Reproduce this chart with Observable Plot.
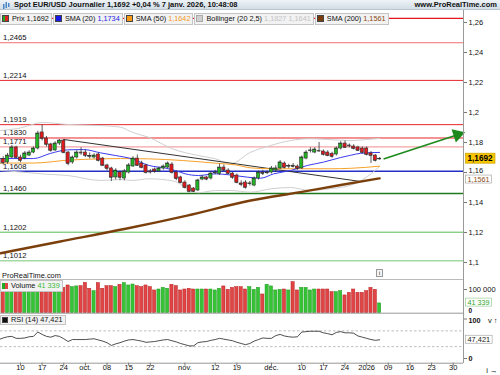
<!DOCTYPE html>
<html><head><meta charset="utf-8">
<script src="https://cdn.jsdelivr.net/npm/d3@7"></script>
<script src="https://cdn.jsdelivr.net/npm/@observablehq/plot@0.6"></script>
<style>
html,body{margin:0;padding:0;background:#fff;}
#wrap{position:relative;width:500px;height:375px;overflow:hidden;background:#fff;font-family:"Liberation Sans",Arial,sans-serif;color:#111;}
#wrap svg{position:absolute;left:0;overflow:visible;}
.bar{position:absolute;left:0;top:0;width:500px;height:9px;background:linear-gradient(#eef3f7,#d2dde6);border-bottom:1px solid #b9c5cf;font-size:7.5px;font-weight:bold;line-height:10px;z-index:5;}
.leg{position:absolute;display:flex;font-size:7.3px;white-space:nowrap;z-index:5;}
.leg .e{background:#f2f2f2;border:1px solid #c4c4c4;height:10px;line-height:10px;padding:0 2px 0 1px;margin-right:1px;display:flex;align-items:center;}
.sw{display:inline-block;width:5px;height:5px;border:0.6px solid #444;margin-right:3px;}
.txt{position:absolute;font-size:7.4px;z-index:5;white-space:nowrap;}
</style></head>
<body><div id="wrap"></div>
<script>
// ---------- DATA ----------
// daily candles, index 0 = 3 sept. 2025 ... index 88 = 7 janv. 2026 (trading days)
const open  = [1.1655,1.1690,1.1667,1.1700,1.1767,1.1700,1.1693,1.1713,1.1733,1.1760,1.1867,1.1827,1.1787,1.1747,1.1793,1.1813,1.1733,1.1667,1.1700,1.1733,1.1733,1.1710,1.1700,1.1720,1.1693,1.1647,1.1627,1.1567,1.1600,1.1560,1.1600,1.1640,1.1693,1.1660,1.1647,1.1607,1.1620,1.1607,1.1627,1.1633,1.1653,1.1600,1.1567,1.1533,1.1513,1.1493,1.1480,1.1553,1.1567,1.1560,1.1595,1.1590,1.1633,1.1613,1.1593,1.1580,1.1527,1.1533,1.1523,1.1513,1.1560,1.1597,1.1595,1.1600,1.1613,1.1627,1.1660,1.1640,1.1645,1.1640,1.1627,1.1693,1.1745,1.1733,1.1745,1.1740,1.1733,1.1725,1.1720,1.1760,1.1793,1.1780,1.1773,1.1767,1.1760,1.1760,1.1727,1.1713,1.1688];
const high  = [1.1700,1.1705,1.1727,1.1780,1.1775,1.1715,1.1740,1.1745,1.1770,1.1875,1.1918,1.1840,1.1795,1.1805,1.1820,1.1820,1.1740,1.1710,1.1745,1.1765,1.1750,1.1730,1.1725,1.1730,1.1700,1.1655,1.1635,1.1625,1.1610,1.1620,1.1660,1.1705,1.1717,1.1675,1.1655,1.1620,1.1630,1.1635,1.1650,1.1670,1.1665,1.1610,1.1575,1.1545,1.1520,1.1500,1.1555,1.1580,1.1575,1.1605,1.1615,1.1655,1.1650,1.1625,1.1600,1.1590,1.1545,1.1545,1.1540,1.1570,1.1610,1.1615,1.1610,1.1640,1.1645,1.1680,1.1670,1.1655,1.1660,1.1650,1.1710,1.1745,1.1765,1.1765,1.1800,1.1750,1.1745,1.1735,1.1770,1.1805,1.1810,1.1790,1.1785,1.1775,1.1770,1.1770,1.1740,1.1720,1.1700];
const low   = [1.1640,1.1650,1.1655,1.1693,1.1690,1.1665,1.1685,1.1705,1.1725,1.1750,1.1810,1.1770,1.1735,1.1740,1.1780,1.1725,1.1645,1.1655,1.1690,1.1715,1.1700,1.1690,1.1690,1.1670,1.1640,1.1610,1.1540,1.1550,1.1545,1.1545,1.1590,1.1635,1.1640,1.1625,1.1590,1.1590,1.1595,1.1600,1.1615,1.1625,1.1590,1.1545,1.1525,1.1490,1.1465,1.1468,1.1475,1.1545,1.1545,1.1550,1.1585,1.1580,1.1605,1.1585,1.1555,1.1525,1.1505,1.1490,1.1510,1.1505,1.1550,1.1580,1.1585,1.1590,1.1600,1.1620,1.1625,1.1625,1.1630,1.1615,1.1620,1.1685,1.1730,1.1725,1.1735,1.1710,1.1705,1.1695,1.1710,1.1750,1.1760,1.1765,1.1750,1.1740,1.1725,1.1710,1.1660,1.1670,1.1682];
const close = [1.1690,1.1665,1.1713,1.1767,1.1700,1.1680,1.1727,1.1733,1.1760,1.1860,1.1827,1.1787,1.1747,1.1793,1.1813,1.1733,1.1660,1.1700,1.1733,1.1730,1.1713,1.1707,1.1713,1.1680,1.1647,1.1627,1.1567,1.1613,1.1567,1.1607,1.1647,1.1693,1.1647,1.1633,1.1600,1.1603,1.1607,1.1627,1.1640,1.1660,1.1600,1.1560,1.1533,1.1500,1.1473,1.1473,1.1547,1.1567,1.1555,1.1593,1.1600,1.1633,1.1615,1.1593,1.1567,1.1533,1.1520,1.1500,1.1527,1.1560,1.1600,1.1593,1.1600,1.1627,1.1627,1.1667,1.1633,1.1643,1.1640,1.1627,1.1700,1.1733,1.1747,1.1753,1.1743,1.1720,1.1713,1.1707,1.1760,1.1793,1.1767,1.1777,1.1760,1.1747,1.1733,1.1720,1.1713,1.1680,1.1692];
// volume, thousands
const volume = [98,102,97,99,101,98.6,103,96,98.6,98.6,98.6,98.6,98.6,98.6,110,107,117,110,113,114,128,103,93,127,103,114,114,110,120,127,117,121,114,110,117,110,96,100,107,103,120,114,96,100,103,100,100,100,100,100,96,103,113,98.6,107,110,110,100,110,98.6,107,79,120,113,96,98.6,100,96,131,96,107,107,96,100,100,100,100,89,89,93,75,86,100,86,86,93,107,98.6,41.339];
// RSI (14)
const rsi = [48,52,55,56,51,51,52,55,56,67,61,56,54,58,56,50,43,48,48,48,48,49,50,47,44,40,33,37,40,44,47,48,46,44,41,42,43,45,47,48,45,42,38,35,32,32,40,42,43,46,48,51,49,47,45,41,38,35,38,44,48,52,51,51,58,61,57,55,54,55,67,68,69,69,69,65,63,60,66,68,65,65,64,57,54,51,48,46,47.421];
// moving averages / bands (sampled points: trading-day index, value)
const sma20Idx = [0.4,8,11.9,15.9,19.6,23.5,27,30.8,34.7,38.5,40.8,43.1,46.1,50.1,53.1,57.4,60.5,63.5,67.4,71.3,75,79,81.3,83.6,88];
const sma20Val = [1.1693,1.1693,1.1727,1.1751,1.1753,1.1731,1.1713,1.1691,1.1647,1.1629,1.1613,1.1591,1.1580,1.1591,1.1585,1.1569,1.1562,1.1591,1.1613,1.1647,1.1669,1.1700,1.1715,1.1728,1.1734];
const sma50Idx = [0.4,8,15.9,23.5,28.1,34.6,42.4,50.1,54.7,58.2,62.8,69,76.6,81.3,88];
const sma50Val = [1.1663,1.1663,1.1682,1.1691,1.1693,1.1691,1.1680,1.1662,1.1651,1.1631,1.1625,1.1625,1.1625,1.1628,1.1642];
const sma200Idx = [0.4,14.2,29.3,43.5,58.2,69.7,79,88];
const sma200Val = [1.1062,1.1140,1.1225,1.1313,1.1413,1.1469,1.1517,1.1561];
const bbIdx = [0.4,4.3,10.3,15.9,23.5,28.1,30.9,34.6,40.1,46.1,50.1,53.5,58.2,62.8,67.4,72,76,81.3,85,88];
const bbUpper = [1.1880,1.1893,1.1933,1.1920,1.1913,1.1902,1.1867,1.1835,1.1758,1.1713,1.1691,1.1658,1.1735,1.1780,1.1813,1.1825,1.1820,1.1813,1.1820,1.1827];
const bbLower = [1.1613,1.1605,1.1590,1.1580,1.1547,1.1553,1.1547,1.1558,1.1545,1.1465,1.1480,1.1480,1.1469,1.1491,1.1500,1.1480,1.1490,1.1515,1.1570,1.1641];
const trendIdx = [15,83.6];
const trendVal = [1.1820,1.1540];
const arrowFrom = [88.9,1.1690];
const arrowTo = [106.9,1.1860];
// horizontal levels
const levelVal = [1.2627,1.2465,1.2214,1.1919,1.1830,1.1771,1.1608,1.1460,1.1202,1.1012];
const levelLabel = ["","1,2465","1,2214","1,1919","1,1830","1,1771","1,1608","1,1460","1,1202","1,1012"];
const levelColor = ["#e8141c","#f07070","#e8262b","#e8262b","#e8262b","#f3a3a3","#2630c8","#1d7a1d","#55bb55","#a3d9a3"];
const levelWidth = [1.2,1,1,1,1,1.4,1.5,1.5,1,1.5];
// axes
const priceTicks = [1.26,1.24,1.22,1.2,1.18,1.16,1.14,1.12,1.1];
const tickIdx = [5,10,15,20,25,30,35,43,50,55,63,70,75,80,85,90,95,100,105];
const tickLabels = ["10","17","24","oct.","08","15","22","nov.","12","19","déc.","10","17","24","2026","09","16","23","30"];
const boldTicks = ["oct.","nov.","déc.","2026"];
const lastPrice = 1.1692, lastSma200 = 1.1561, lastVolume = 41339, lastRsi = 47.421;

// ---------- BUILD ----------
const wrap = document.getElementById("wrap");
const FONT = '"Liberation Sans",Arial,sans-serif';
const fmt = v => String(v).replace(".", ",");
const xDomain = [0.378, 107.38];
const N = close.length;
const candles = d3.range(N).map(i => ({i, o: open[i], h: high[i], l: low[i], c: close[i], up: close[i] >= open[i]}));
const pts = (xs, ys) => xs.map((x, k) => ({x, y: ys[k]}));
const levels = levelVal.map((v, k) => ({v, label: levelLabel[k], color: levelColor[k], w: levelWidth[k]}));
const hw = 0.37;
const baseStyle = {fontFamily: FONT, fontSize: "7.5px", background: "transparent", overflow: "visible", color: "#111"};
const arrowColor = "#1e8a1e";
const isBoldPrice = d => d === 1.2 || d === 1.1;

const main = Plot.plot({
  width: 500, height: 270, marginTop: 10, marginBottom: 4, marginLeft: 0, marginRight: 37,
  x: {type: "linear", domain: xDomain, axis: null},
  y: {type: "linear", domain: [1.097333, 1.268], axis: null},
  style: baseStyle,
  marks: [
    Plot.ruleY(levels, {y: "v", stroke: "color", strokeWidth: "w"}),
    Plot.text(levels.filter(d => d.label), {x: xDomain[0], y: "v", text: "label", dx: 2.5, dy: -5, textAnchor: "start", fill: "#111", fontSize: 7.7}),
    Plot.line(pts(bbIdx, bbUpper), {x: "x", y: "y", stroke: "#cfcfcf", strokeWidth: 1, curve: "monotone-x"}),
    Plot.line(pts(bbIdx, bbLower), {x: "x", y: "y", stroke: "#cfcfcf", strokeWidth: 1, curve: "monotone-x"}),
    Plot.line(pts(trendIdx, trendVal), {x: "x", y: "y", stroke: "#333", strokeWidth: 1}),
    Plot.line(pts(sma200Idx, sma200Val), {x: "x", y: "y", stroke: "#7b3f0c", strokeWidth: 2.4, curve: "monotone-x"}),
    Plot.line(pts(sma50Idx, sma50Val), {x: "x", y: "y", stroke: "#f7a128", strokeWidth: 1, curve: "monotone-x"}),
    Plot.line(pts(sma20Idx, sma20Val), {x: "x", y: "y", stroke: "#3a3af0", strokeWidth: 1, curve: "monotone-x"}),
    Plot.ruleX(candles, {x: "i", y1: "l", y2: "h", stroke: "#333", strokeWidth: 0.8}),
    Plot.rect(candles, {x1: d => d.i - hw, x2: d => d.i + hw, y1: "o", y2: "c", fill: d => d.up ? "#22b422" : "#e0191e", stroke: "#333", strokeWidth: 0.6}),
    Plot.ruleY(candles, {y: "c", x1: d => d.i - hw, x2: d => d.i + hw, stroke: "#333", strokeWidth: 0.7}),
    Plot.link([{}], {x1: arrowFrom[0], y1: arrowFrom[1], x2: arrowTo[0] - 0.9, y2: arrowTo[1] - 0.0008, stroke: arrowColor, strokeWidth: 1.6}),
    Plot.dot([{}], {x: arrowTo[0] - 0.9, y: arrowTo[1] - 0.0008, symbol: "triangle", r: 4.2, rotate: 72, fill: arrowColor, stroke: arrowColor}),
    Plot.axisY({anchor: "right", ticks: priceTicks, tickSize: 3, tickFormat: () => "", stroke: "#777"}),
    Plot.text(priceTicks.filter(d => d !== 1.16), {x: xDomain[1], y: d => d, text: fmt, dx: 5, textAnchor: "start", fontWeight: d => isBoldPrice(d) ? "bold" : "normal", fill: "#111"}),
    Plot.text([1.16], {x: xDomain[1], y: d => d, text: fmt, dx: 5, dy: -1.5, textAnchor: "start", fill: "#111"})
  ]
});
main.style.top = "0px";
wrap.appendChild(main);

const vol = Plot.plot({
  width: 500, height: 35, marginTop: 0, marginBottom: 1.3, marginLeft: 0, marginRight: 37,
  x: {type: "linear", domain: xDomain, axis: null},
  y: {type: "linear", domain: [0, 142.194], axis: null},
  style: baseStyle,
  marks: [
    Plot.ruleY([142.194], {stroke: "#bbb"}),
    Plot.rect(candles, {x1: d => d.i - hw, x2: d => d.i + hw, y1: 0, y2: d => volume[d.i], fill: d => d.up ? "#36c336" : "#e04444", stroke: d => d.up ? "#1f9a1f" : "#b82222", strokeWidth: 0.5}),
    Plot.ruleY([0], {stroke: "#999"}),
    Plot.axisY({anchor: "right", ticks: [100], tickSize: 3, tickFormat: () => "", stroke: "#777"}),
    Plot.text([100], {x: xDomain[1], y: d => d, text: () => "100 000", dx: 5, textAnchor: "start", fill: "#111"}),
    Plot.text([0], {x: xDomain[1], y: d => d, text: () => "0", dx: 5, dy: -2.6, fontSize: 6.5, textAnchor: "start", fontWeight: "bold", fill: "#111"})
  ]
});
vol.style.top = "279px";
wrap.appendChild(vol);

const rsiData = rsi.map((v, i) => ({i, v}));
const ticks = tickIdx.map((i, k) => ({i, label: tickLabels[k], bold: boldTicks.includes(tickLabels[k])}));
const rsiPlot = Plot.plot({
  width: 500, height: 61, marginTop: 0, marginBottom: 12.3, marginLeft: 0, marginRight: 37,
  x: {type: "linear", domain: xDomain, axis: null},
  y: {type: "linear", domain: [-11.9, 111.4], axis: null},
  style: baseStyle,
  marks: [
    Plot.ruleY([30, 70], {stroke: "#bdbdbd", strokeDasharray: "2.5,2"}),
    Plot.line(rsiData, {x: "i", y: "v", stroke: "#222", strokeWidth: 0.8}),
    Plot.ruleY([-11.9], {stroke: "#999"}),
    Plot.axisX({ticks: tickIdx, tickSize: 3, tickFormat: () => "", stroke: "#777"}),
    Plot.axisY({anchor: "right", ticks: [100, 0], tickSize: 3, tickFormat: () => "", stroke: "#777"}),
    Plot.text(ticks, {x: "i", text: "label", frameAnchor: "bottom", dy: 7, fontWeight: d => d.bold ? "bold" : "normal", fill: "#111"}),
    Plot.text([100], {x: xDomain[1], y: d => d, text: String, dx: 5, dy: 1.5, fontSize: 7.2, textAnchor: "start", fontWeight: "bold", fill: "#111"}),
    Plot.text([0], {x: xDomain[1], y: d => d, text: String, dx: 5, fontSize: 7.2, textAnchor: "start", fontWeight: "bold", fill: "#111"})
  ]
});
rsiPlot.style.top = "314px";
wrap.appendChild(rsiPlot);

// value tags in the right margin
function tag(plot, v, text, o) {
  const x = plot.scale("x").apply(xDomain[1]) + 2.5;
  const y = plot.scale("y").apply(v) + (o.shift || 0);
  const h = o.h || 9;
  const g = d3.select(plot).append("g");
  const t = g.append("text").attr("x", x + 2).attr("y", y).attr("dy", "0.35em").attr("text-anchor", "start")
    .attr("font-size", o.size || 7.4).attr("font-weight", o.bold ? "bold" : "normal").attr("fill", o.color).text(text);
  const bb = t.node().getBBox();
  g.insert("rect", "text").attr("x", x).attr("y", y - h / 2).attr("width", bb.width + 4).attr("height", h)
    .attr("fill", o.bg).attr("stroke", o.stroke).attr("stroke-width", 0.7);
}
tag(main, lastPrice, fmt(lastPrice), {bg: "#f7c600", stroke: "#c9a200", color: "#000", bold: true, size: 8.2, h: 10});
tag(main, lastSma200, fmt(lastSma200), {bg: "#fff", stroke: "#aaa", color: "#8a4a14", h: 8, shift: 1.2, size: 7.2});
tag(vol, lastVolume / 1000, "41 339", {bg: "#fff", stroke: "#9c9", color: "#2aa52a", h: 8, shift: -0.8, size: 7.2});
tag(rsiPlot, lastRsi, fmt(lastRsi), {bg: "#fff", stroke: "#aaa", color: "#222", h: 8});

// vertical price-axis line
const axisLine = document.createElement("div");
axisLine.style.cssText = `position:absolute;left:${main.scale("x").apply(xDomain[1]) - 0.5}px;top:10px;width:1px;height:353px;background:#9a9a9a;z-index:1`;
wrap.insertBefore(axisLine, wrap.firstChild);

// header & legends (HTML text)
wrap.insertAdjacentHTML("beforeend", `
<div class="bar"><svg width="9" height="9" style="position:absolute;left:2px;top:0.5px"><rect x="1" y="3" width="1.5" height="5" fill="#4a86c8"/><rect x="3.5" y="1" width="1.5" height="6" fill="#4a86c8"/><rect x="6" y="2" width="1.5" height="4" fill="#4a86c8"/></svg>
<span style="position:absolute;left:14px;top:0">Spot EUR/USD Journalier 1,1692 +0,04 % 7 janv. 2026, 10:48:08</span>
<span style="position:absolute;right:3px;top:0">www.ProRealTime.com</span></div>
<div class="leg" style="left:0;top:12.5px">
 <div class="e"><span class="sw" style="background:linear-gradient(90deg,#2a2 50%,#d22 50%)"></span>Prix 1,1692</div>
 <div class="e"><span class="sw" style="background:#1818e8"></span>SMA (20)&nbsp;<span style="color:#2323e6">1,1734</span></div>
 <div class="e"><span class="sw" style="background:#f99a16"></span>SMA (50)&nbsp;<span style="color:#f59a1c">1,1642</span></div>
 <div class="e"><span class="sw" style="background:#d0d0d0;border-color:#aaa"></span>Bollinger (20 2,5)&nbsp;<span style="color:#c4c4c4">1,1827&nbsp;1,1641</span></div>
 <div class="e"><span class="sw" style="background:#7a3c0a"></span>SMA (200)&nbsp;<span style="color:#8a4a14">1,1561</span></div>
</div>
<div class="txt" style="left:2px;top:270.5px">ProRealTime.com</div>
<div class="txt" style="left:376px;top:268.5px;width:5px;height:6px;border:0.7px solid #999;font-size:5px;line-height:6px;text-align:center;background:#f4f4f4">i</div>
<div class="leg" style="left:0;top:279.5px"><div class="e"><span class="sw" style="background:linear-gradient(90deg,#2a2 50%,#d44 50%);border:none;width:6px;height:6px"></span>Volume&nbsp;<span style="color:#3bbb3b">41 339</span></div></div>
<div class="leg" style="left:0;top:314.5px"><div class="e" style="height:8px;line-height:8px"><span class="sw" style="background:#111;width:4px;height:4px"></span>RSI (14) 47,421</div></div>
`);
</script>
</body></html>
